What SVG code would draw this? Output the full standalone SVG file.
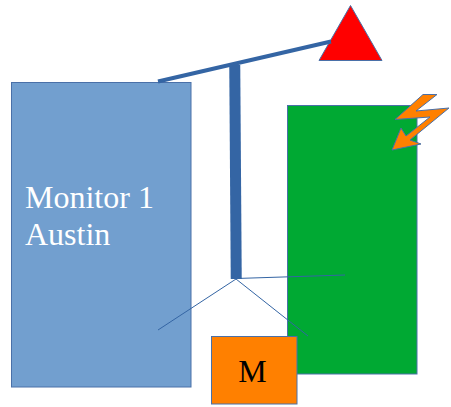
<svg xmlns="http://www.w3.org/2000/svg" width="451" height="407" viewBox="0 0 451 407">
<style>
.o{stroke:#4a70a8;stroke-width:1}
.c{stroke:#3465a4;fill:none}
text{font-family:"Liberation Serif",serif}
</style>
<rect width="451" height="407" fill="#fff"/>
<g id="monitor"><rect class="o" x="11.500" y="82.500" width="179.500" height="304.500" fill="#729fcf"/>
<text x="25" y="208" font-size="32" fill="#fff">Monitor 1</text>
<text x="25" y="245" font-size="32" fill="#fff">Austin</text></g>
<g id="green"><rect class="o" x="287.500" y="105.500" width="129.500" height="268.500" fill="#00a933"/></g>
<g id="triangle"><polygon class="o" points="350.500,5.500 382,60.500 319,60.500" fill="#ff0000"/></g>
<g id="bolt"><polygon class="o" points="423,94.500 437,94.500 416,111 449,108 410,140 421,144 392,150 401,128 406,136 430,117 395,119.500" fill="#ff8000"/></g>
<g id="connectors">
<line class="c" x1="158" y1="81.500" x2="331" y2="41.500" stroke-width="4"/>
<rect x="230" y="65" width="11" height="214" fill="#3465a4" transform="rotate(-0.400 235 172)"/>
<polyline class="c" points="158,330 236,279 308,336" stroke-width="1"/>
<line class="c" x1="236" y1="278.500" x2="345" y2="275" stroke-width="1"/>
</g>
<g id="m"><rect class="o" x="211.500" y="336.500" width="85.500" height="67.500" fill="#ff8000"/>
<text x="252.500" y="382" font-size="32" text-anchor="middle" fill="#000">M</text></g>
</svg>
